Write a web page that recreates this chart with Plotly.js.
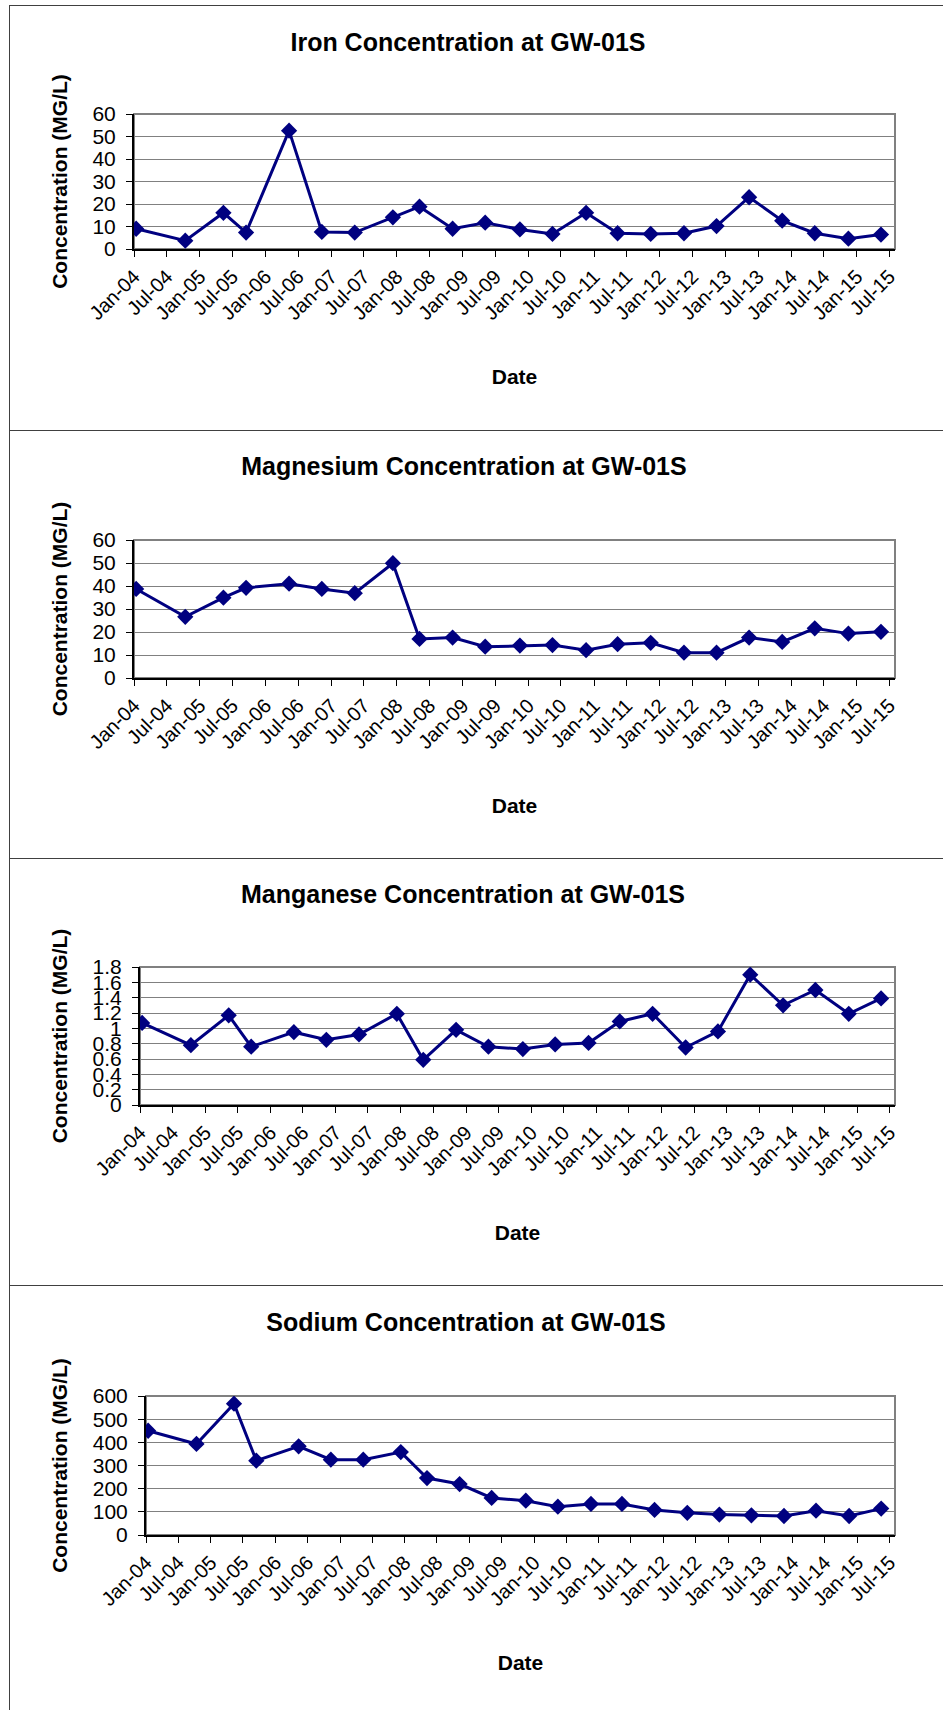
<!DOCTYPE html>
<html><head><meta charset="utf-8">
<script src="https://cdn.plot.ly/plotly-3.0.1.min.js"></script>
<style>
html,body{margin:0;padding:0;background:#fff;}
#wrap{position:relative;width:943px;height:1710px;overflow:hidden;background:#fff;}
.chart{position:absolute;left:0;width:943px;}
.ln{position:absolute;background:#404040;z-index:5;}
</style></head><body>
<div id="wrap">
<div id="c1" class="chart" style="top:0px;height:430px"></div>
<div id="c2" class="chart" style="top:430px;height:428px"></div>
<div id="c3" class="chart" style="top:858px;height:427px"></div>
<div id="c4" class="chart" style="top:1285px;height:425px"></div>
<div class="ln" style="left:9px;top:5px;width:934px;height:1px"></div>
<div class="ln" style="left:9px;top:430px;width:934px;height:1px"></div>
<div class="ln" style="left:9px;top:858px;width:934px;height:1px"></div>
<div class="ln" style="left:9px;top:1285px;width:934px;height:1px"></div>
<div class="ln" style="left:9px;top:5px;width:1px;height:1705px"></div>
</div>
<script>
// ---- data ----
const sampleDates = ['2004-01-13','2004-10-12','2005-05-12','2005-09-15','2006-05-12','2006-11-10',
  '2007-05-12','2007-12-10','2008-05-06','2008-11-06','2009-05-06','2009-11-15','2010-05-15',
  '2010-11-18','2011-05-12','2011-11-12','2012-05-15','2012-11-12','2013-05-12','2013-11-12',
  '2014-05-12','2014-11-15','2015-05-15'];
const ironValues = [9.0,3.7,16.1,7.3,52.6,7.6,7.3,14.1,18.8,9.0,11.7,8.7,6.7,16.1,7.0,6.7,7.0,10.2,23.0,12.6,7.0,4.6,6.4];
const magnesiumValues = [38.7,26.6,34.9,39.2,41.0,38.7,36.9,49.9,17.0,17.6,13.6,14.1,14.3,12.1,14.7,15.3,11.0,11.0,17.6,15.7,21.6,19.3,20.1];
const manganeseValues = [1.07,0.78,1.17,0.76,0.95,0.85,0.92,1.19,0.59,0.98,0.76,0.73,0.79,0.81,1.09,1.19,0.75,0.96,1.70,1.30,1.50,1.19,1.39];
const sodiumValues = [450,393,567,321,383,325,325,358,246,220,160,148,122,134,134,108,96,88,85,82,105,82,114];
const chartTitles = ['Iron Concentration at GW-01S','Magnesium Concentration at GW-01S',
  'Manganese Concentration at GW-01S','Sodium Concentration at GW-01S'];
const yAxisTitle = 'Concentration (MG/L)';
const xAxisTitle = 'Date';
const yMaxima = [60, 60, 1.8, 600];
const yTickSteps = [10, 10, 0.2, 100];
const xRange = ['2004-01-01', '2015-08-01'];
const xTickStart = '2004-01-01';

// ---- layout geometry (pixels on the page) ----
const seriesList = [ironValues, magnesiumValues, manganeseValues, sodiumValues];
const panels = [
  {id:'c1', top:0,    h:430, l:133.5, t:114,   b:249.5,  titleX:468, titleY:42},
  {id:'c2', top:430,  h:428, l:133.5, t:539.5, b:678,    titleX:464, titleY:466},
  {id:'c3', top:858,  h:427, l:140,   t:967,   b:1104.7, titleX:463, titleY:894},
  {id:'c4', top:1285, h:425, l:145.7, t:1396,  b:1535,   titleX:466, titleY:1322}
];
const plotRight = 895;
const FONT = 'Liberation Sans, Arial, sans-serif';
const navy = '#000080';

panels.forEach((p, i) => {
  const trace = {
    type:'scatter', mode:'lines+markers',
    x: sampleDates, y: seriesList[i],
    line:{color:navy, width:3},
    marker:{symbol:'diamond', size:12.5, color:navy},
    showlegend:false, hoverinfo:'skip'
  };
  const layout = {
    width:943, height:p.h,
    margin:{l:p.l, r:943-plotRight, t:p.t-p.top, b:p.top+p.h-p.b, pad:0},
    paper_bgcolor:'#fff', plot_bgcolor:'#fff',
    font:{family:FONT, color:'#000'},
    title:{text:chartTitles[i], font:{family:FONT, size:25, weight:'bold', color:'#000'},
      xref:'container', yref:'container', x:p.titleX/943, xanchor:'center',
      y:1-(p.titleY-p.top)/p.h, yanchor:'middle'},
    xaxis:{type:'date', range:xRange, autorange:false, tick0:xTickStart, dtick:'M6',
      tickformat:'%b-%y', tickangle:-45, ticks:'outside', ticklen:6, tickwidth:1, tickcolor:'#000',
      tickfont:{family:FONT, size:20, color:'#000'},
      showline:true, linecolor:'#000', linewidth:2, showgrid:false, zeroline:false,
      title:{text:xAxisTitle, font:{family:FONT, size:21, weight:'bold', color:'#000'}, standoff:46},
      automargin:false, fixedrange:true},
    yaxis:{range:[0, yMaxima[i]], autorange:false, tick0:0, dtick:yTickSteps[i],
      ticks:'outside', ticklen:6, tickwidth:1, tickcolor:'#000', ticklabelstandoff:6,
      tickfont:{family:FONT, size:21, color:'#000'},
      showline:true, linecolor:'#000', linewidth:2, showgrid:true, gridcolor:'#808080', gridwidth:1,
      zeroline:false,
      title:{text:yAxisTitle, font:{family:FONT, size:21, weight:'bold', color:'#000'}, standoff:19},
      automargin:false, fixedrange:true},
    shapes:[{type:'rect', xref:'paper', yref:'paper', x0:0, x1:1, y0:0, y1:1,
      line:{color:'#808080', width:2}, layer:'below'}]
  };
  Plotly.newPlot(p.id, [trace], layout, {staticPlot:true, displayModeBar:false});
});
</script>
</body></html>
